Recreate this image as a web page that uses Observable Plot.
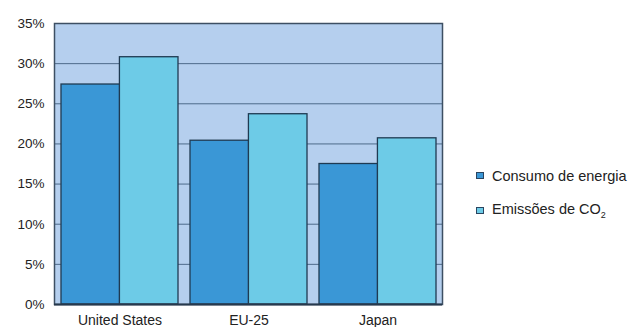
<!DOCTYPE html>
<html>
<head>
<meta charset="utf-8">
<script src="https://cdn.jsdelivr.net/npm/d3@7"></script>
<script src="https://cdn.jsdelivr.net/npm/@observablehq/plot@0.6"></script>
<style>
  html, body { margin: 0; padding: 0; background: #fff; }
  #wrap { position: relative; width: 636px; height: 327px; font-family: "Liberation Sans", Arial, sans-serif; }
  #legend { position: absolute; left: 476px; top: 167px; font-size: 14.5px; color: #222; white-space: nowrap; }
  .item { display: flex; align-items: center; height: 17px; margin-bottom: 18px; }
  .sw { width: 6px; height: 5px; border: 1px solid #2a4560; margin-right: 8px; }
</style>
</head>
<body>
<div id="wrap">
  <div id="chart"></div>
  <div id="legend"></div>
</div>
<script>
const categories = ["United States", "EU-25", "Japan"];
const seriesNames = ["Consumo de energia", "Emissões de CO₂"];
const energy = [27.4, 20.4, 17.5];
const co2 = [30.8, 23.7, 20.7];
const yTicks = [0, 5, 10, 15, 20, 25, 30, 35];
const colors = ["#3a97d6", "#6dcbe7"];

const W = 636, H = 327;
const mL = 54, mR = 194, mT = 23, mB = 23;
const xOpts = {domain: categories, paddingInner: 0.095, paddingOuter: 0.05};
const xs = Plot.scale({x: {type: "band", range: [mL, W - mR], ...xOpts}});
const half = xs.bandwidth / 2;

const data = [
  ...categories.map((c, i) => ({cat: c, series: seriesNames[0], v: energy[i]})),
  ...categories.map((c, i) => ({cat: c, series: seriesNames[1], v: co2[i]}))
];

const chart = Plot.plot({
  width: W, height: H,
  marginLeft: mL, marginRight: mR, marginTop: mT, marginBottom: mB,
  style: {fontFamily: "Liberation Sans, Arial, sans-serif", fontSize: "13.5px", color: "#222", background: "#fff"},
  x: {...xOpts, label: null, tickSize: 0, tickPadding: 11},
  y: {domain: [0, 35], ticks: yTicks, tickFormat: d => d + "%", label: null, tickSize: 0, tickPadding: 10},
  marks: [
    Plot.frame({fill: "#b5cfee", stroke: null}),
    Plot.ruleY(yTicks.slice(1, -1), {stroke: "#4d6a8a", strokeWidth: 1}),
    Plot.barY(data.filter(d => d.series === seriesNames[0]), {
      x: "cat", y: "v", fill: colors[0], stroke: "#1f3a52", strokeWidth: 1.3, insetRight: half
    }),
    Plot.barY(data.filter(d => d.series === seriesNames[1]), {
      x: "cat", y: "v", fill: colors[1], stroke: "#1f3a52", strokeWidth: 1.3, insetLeft: half
    }),
    Plot.frame({stroke: "#3d4f63", strokeWidth: 1.5}),
    Plot.ruleY([0], {stroke: "#26394d", strokeWidth: 2})
  ]
});
chart.querySelectorAll('g[aria-label="x-axis tick label"] text').forEach(t => t.style.fontSize = "14px");
document.getElementById("chart").appendChild(chart);

const legend = document.getElementById("legend");
seriesNames.forEach((name, i) => {
  const item = document.createElement("div");
  item.className = "item";
  const sw = document.createElement("span");
  sw.className = "sw";
  sw.style.background = colors[i];
  const t = document.createElement("span");
  if (name.endsWith("₂")) {
    t.innerHTML = name.slice(0, -1) + '<sub style="font-size:9px">2</sub>';
  } else {
    t.textContent = name;
  }
  item.appendChild(sw);
  item.appendChild(t);
  legend.appendChild(item);
});
</script>
</body>
</html>
